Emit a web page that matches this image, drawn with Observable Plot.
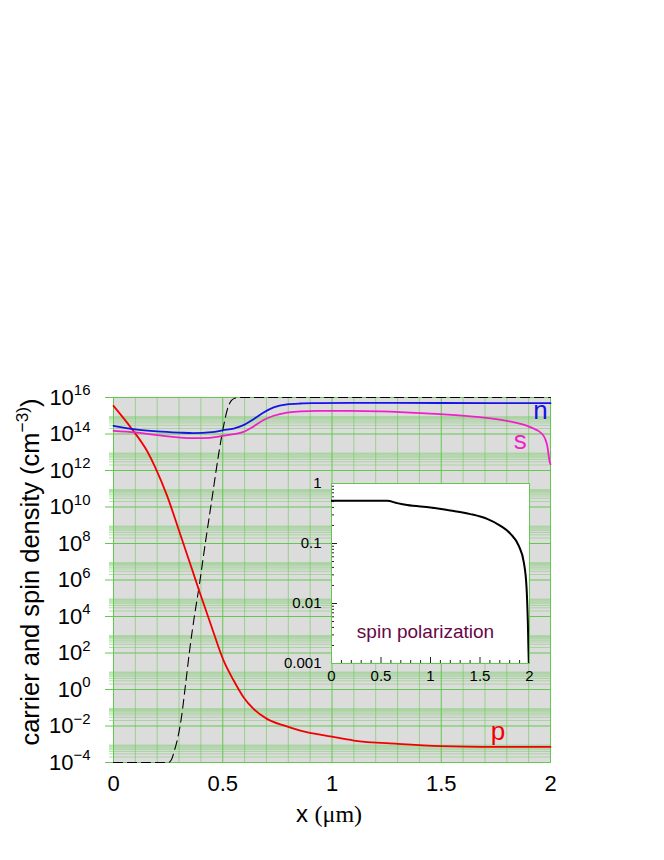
<!DOCTYPE html>
<html><head><meta charset="utf-8">
<script src="https://cdn.jsdelivr.net/npm/d3@7"></script>
<script src="https://cdn.jsdelivr.net/npm/@observablehq/plot@0.6"></script>
<style>
html,body{margin:0;padding:0;background:#fff;}
#wrap{position:relative;width:664px;height:860px;}
#wrap svg{position:absolute;left:0;top:0;}
</style></head><body><div id="wrap"></div>
<script>
// ---------- data ----------
const xMajor = [0, 0.5, 1, 1.5, 2];
const xMajorLabels = ["0", "0.5", "1", "1.5", "2"];
const xMinor = [0.1,0.2,0.3,0.4,0.6,0.7,0.8,0.9,1.1,1.2,1.3,1.4,1.6,1.7,1.8,1.9];
const yMajor = [1e-4,1e-2,1e0,1e2,1e4,1e6,1e8,1e10,1e12,1e14,1e16];
const yExponents = ["−4","−2","0","2","4","6","8","10","12","14","16"];
const minorMultipliers = [2,3,4,5,6,7,8,9];

// electron density n
const xN = [0,0.1,0.2,0.3,0.365,0.45,0.5,0.55,0.595,0.641,0.687,0.733,0.794,0.855,0.931,1.084,1.5,2.0];
const nVals = [2.8e14,1.8e14,1.4e14,1.2e14,1.12e14,1.26e14,1.6e14,2.0e14,3.07e14,6.5e14,1.5e15,2.85e15,4.2e15,4.7e15,4.9e15,5.1e15,5.0e15,4.9e15];
// spin density s
const xS = [0,0.1,0.2,0.365,0.44,0.5,0.55,0.595,0.641,0.687,0.733,0.794,0.855,0.931,1.084,1.405,1.634,1.8,1.907,1.962,1.985,1.997,2.0];
const sVals = [1.5e14,1.23e14,8.7e13,6.0e13,6.2e13,7.9e13,9.8e13,1.32e14,2.6e14,5.8e14,1.0e15,1.5e15,1.72e15,1.86e15,1.86e15,1.41e15,9.3e14,5.2e14,2.4e14,1.0e14,2.3e13,2.75e12,2.2e12];
// hole density p
const xP = [0,0.084,0.153,0.191,0.245,0.305,0.359,0.392,0.45,0.504,0.55,0.595,0.641,0.702,0.779,0.855,1.0,1.1,1.3,1.5,1.75,2.0];
const pVals = [3.5e15,1.9e14,1.2e13,1.5e12,4.2e10,3.3e8,4.0e6,2.6e5,2.5e3,38,3.1,0.38,0.087,0.0245,0.0107,0.0056,0.0026,0.0016,0.00105,0.00079,0.00072,0.00071];
// doping profile (dashed)
const xD = [0,0.25,0.265,0.28,0.295,0.31,0.33,0.35,0.37,0.39,0.42,0.45,0.48,0.5,0.52,0.54,0.56,0.58,2.0];
const dVals = [1e-4,1e-4,1.4e-4,5e-4,2.5e-3,0.025,2,200,1e4,3.2e5,1e8,2.5e10,6.3e12,1.6e14,2e15,7e15,9.5e15,1e16,1e16];
// inset: spin polarization
const xPol = [0,0.562,0.663,0.764,1.0,1.2,1.404,1.572,1.707,1.808,1.892,1.943,1.970,1.983,1.993,2.0];
const polVals = [0.515,0.515,0.471,0.437,0.398,0.355,0.309,0.257,0.197,0.145,0.091,0.048,0.0186,0.0051,0.001,0.0005];
const insetYMajor = [0.001, 0.01, 0.1, 1];
const insetYLabels = ["0.001", "0.01", "0.1", "1"];

const curveLabels = [
  {x: 1.954, y: 1.86e15, text: "n", color: "#1414e6"},
  {x: 1.862, y: 4.3e13, text: "s", color: "#f020c8"},
  {x: 1.76, y: 5.1e-3, text: "p", color: "#f00000"}
];
const yLabelText = "carrier and spin density (cm^−3)";
const xLabelText = "x (μm)";
const insetLabel = "spin polarization";

// ---------- derived tables ----------
const tbl = (xs, ys) => xs.map((x, i) => ({x, y: ys[i]}));
const nData = tbl(xN, nVals), sData = tbl(xS, sVals), pData = tbl(xP, pVals), dData = tbl(xD, dVals), polData = tbl(xPol, polVals);
const yMinor = yMajor.slice(0, -1).flatMap(v => minorMultipliers.map(m => m * v));
const insetYMinor = insetYMajor.slice(0, -1).flatMap(v => minorMultipliers.map(m => m * v));

const GREEN = "#62c84e";
const FONT = '"Liberation Sans", Arial, Helvetica, sans-serif';
const style = {background: "transparent", fontFamily: FONT, overflow: "visible", color: "#000"};

const main = Plot.plot({
  width: 664, height: 860,
  marginLeft: 113, marginRight: 114, marginTop: 397, marginBottom: 98,
  x: {domain: [0, 2]},
  y: {type: "log", domain: [1e-4, 1e16]},
  style,
  marks: [
    Plot.frame({fill: "#dcdcdc"}),
    Plot.ruleY(yMinor, {stroke: GREEN, strokeOpacity: 0.4}),
    Plot.ruleX(xMinor, {stroke: GREEN, strokeOpacity: 0.55}),
    Plot.ruleY(yMajor, {stroke: GREEN}),
    Plot.ruleX(xMajor, {stroke: GREEN}),
    Plot.axisY({ticks: yMinor, tickSize: 4, stroke: GREEN, strokeOpacity: 0.5, fill: "none", label: null}),
    Plot.axisY({ticks: yMajor, tickSize: 8, stroke: GREEN, fill: "none", label: null}),
    Plot.axisY({ticks: yMajor, tickSize: 0, tickPadding: 23, fontSize: 22, label: null,
      tickFormat: d => "10^" + yExponents[yMajor.indexOf(d)]}),
    Plot.axisX({ticks: xMajor, tickSize: 0, tickPadding: 13, fontSize: 22, label: null,
      tickFormat: d => xMajorLabels[xMajor.indexOf(d)]}),
    Plot.frame({stroke: GREEN}),
    Plot.line(dData, {x: "x", y: "y", stroke: "#000", strokeWidth: 1.1, strokeDasharray: "9,5", curve: "monotone-x"}),
    Plot.line(pData, {x: "x", y: "y", stroke: "#f00000", strokeWidth: 1.8, curve: "monotone-x"}),
    Plot.line(sData, {x: "x", y: "y", stroke: "#f020c8", strokeWidth: 1.8, curve: "monotone-x"}),
    Plot.line(nData, {x: "x", y: "y", stroke: "#1414e6", strokeWidth: 1.8, curve: "monotone-x"}),
    Plot.text(curveLabels, {x: "x", y: "y", text: "text", fill: "color", fontSize: 26}),
    Plot.text([yLabelText], {text: d => d, frameAnchor: "left", textAnchor: "middle", lineAnchor: "middle",
      rotate: -90, dx: -83, dy: -8, fontSize: 25.5}),
    Plot.text([xLabelText], {text: d => d, frameAnchor: "bottom", textAnchor: "middle", lineAnchor: "middle",
      dx: -3, dy: 52, fontSize: 24})
  ]
});

const inset = Plot.plot({
  width: 664, height: 860,
  marginLeft: 331, marginRight: 135, marginTop: 483, marginBottom: 197,
  x: {domain: [0, 2]},
  y: {type: "log", domain: [1e-3, 1]},
  style,
  marks: [
    Plot.frame({fill: "white"}),
    Plot.axisX({ticks: xMinor, tickSize: 3, dy: -3, stroke: "#222", fill: "none", label: null}),
    Plot.axisX({ticks: xMajor, tickSize: 6, dy: -6, stroke: "#222", fill: "none", label: null}),
    Plot.axisX({ticks: xMajor, tickSize: 0, tickPadding: 7, fontSize: 15, label: null,
      tickFormat: d => xMajorLabels[xMajor.indexOf(d)]}),
    Plot.axisY({ticks: insetYMinor, tickSize: 3, dx: 3, stroke: "#222", fill: "none", label: null}),
    Plot.axisY({ticks: insetYMajor, tickSize: 6, dx: 6, stroke: "#222", fill: "none", label: null}),
    Plot.axisY({ticks: insetYMajor, tickSize: 0, tickPadding: 10, fontSize: 15, label: null,
      tickFormat: d => insetYLabels[insetYMajor.indexOf(d)]}),
    Plot.frame({stroke: GREEN}),
    Plot.line(polData, {x: "x", y: "y", stroke: "#000", strokeWidth: 2, curve: "monotone-x", clip: true}),
    Plot.text([insetLabel], {text: d => d, frameAnchor: "bottom", textAnchor: "middle", lineAnchor: "middle",
      dx: -5, dy: -32, fontSize: 19, fill: "#670748"})
  ]
});

const wrap = document.getElementById("wrap");
wrap.appendChild(main);
wrap.appendChild(inset);

// superscripts and mixed fonts
d3.select(main).selectAll("text").each(function() {
  const t = d3.select(this);
  const s = this.textContent;
  if (s === yLabelText) {
    const [b, e] = s.split("^");
    t.text(null);
    t.append("tspan").text(b);
    t.append("tspan").attr("font-size", "0.68em").attr("dy", "-0.62em").text(e);
    t.append("tspan").attr("dy", "0.42em").text(")");
  } else if (s.includes("^") && s.startsWith("10")) {
    const [b, e] = s.split("^");
    t.text(null);
    t.append("tspan").text(b);
    t.append("tspan").attr("font-size", "0.68em").attr("dy", "-0.62em").text(e);
  } else if (s === xLabelText) {
    t.text(null);
    t.append("tspan").text("x ");
    t.append("tspan").attr("font-family", '"Liberation Serif", "Times New Roman", serif').text("(μm)");
  }
});
</script></body></html>
